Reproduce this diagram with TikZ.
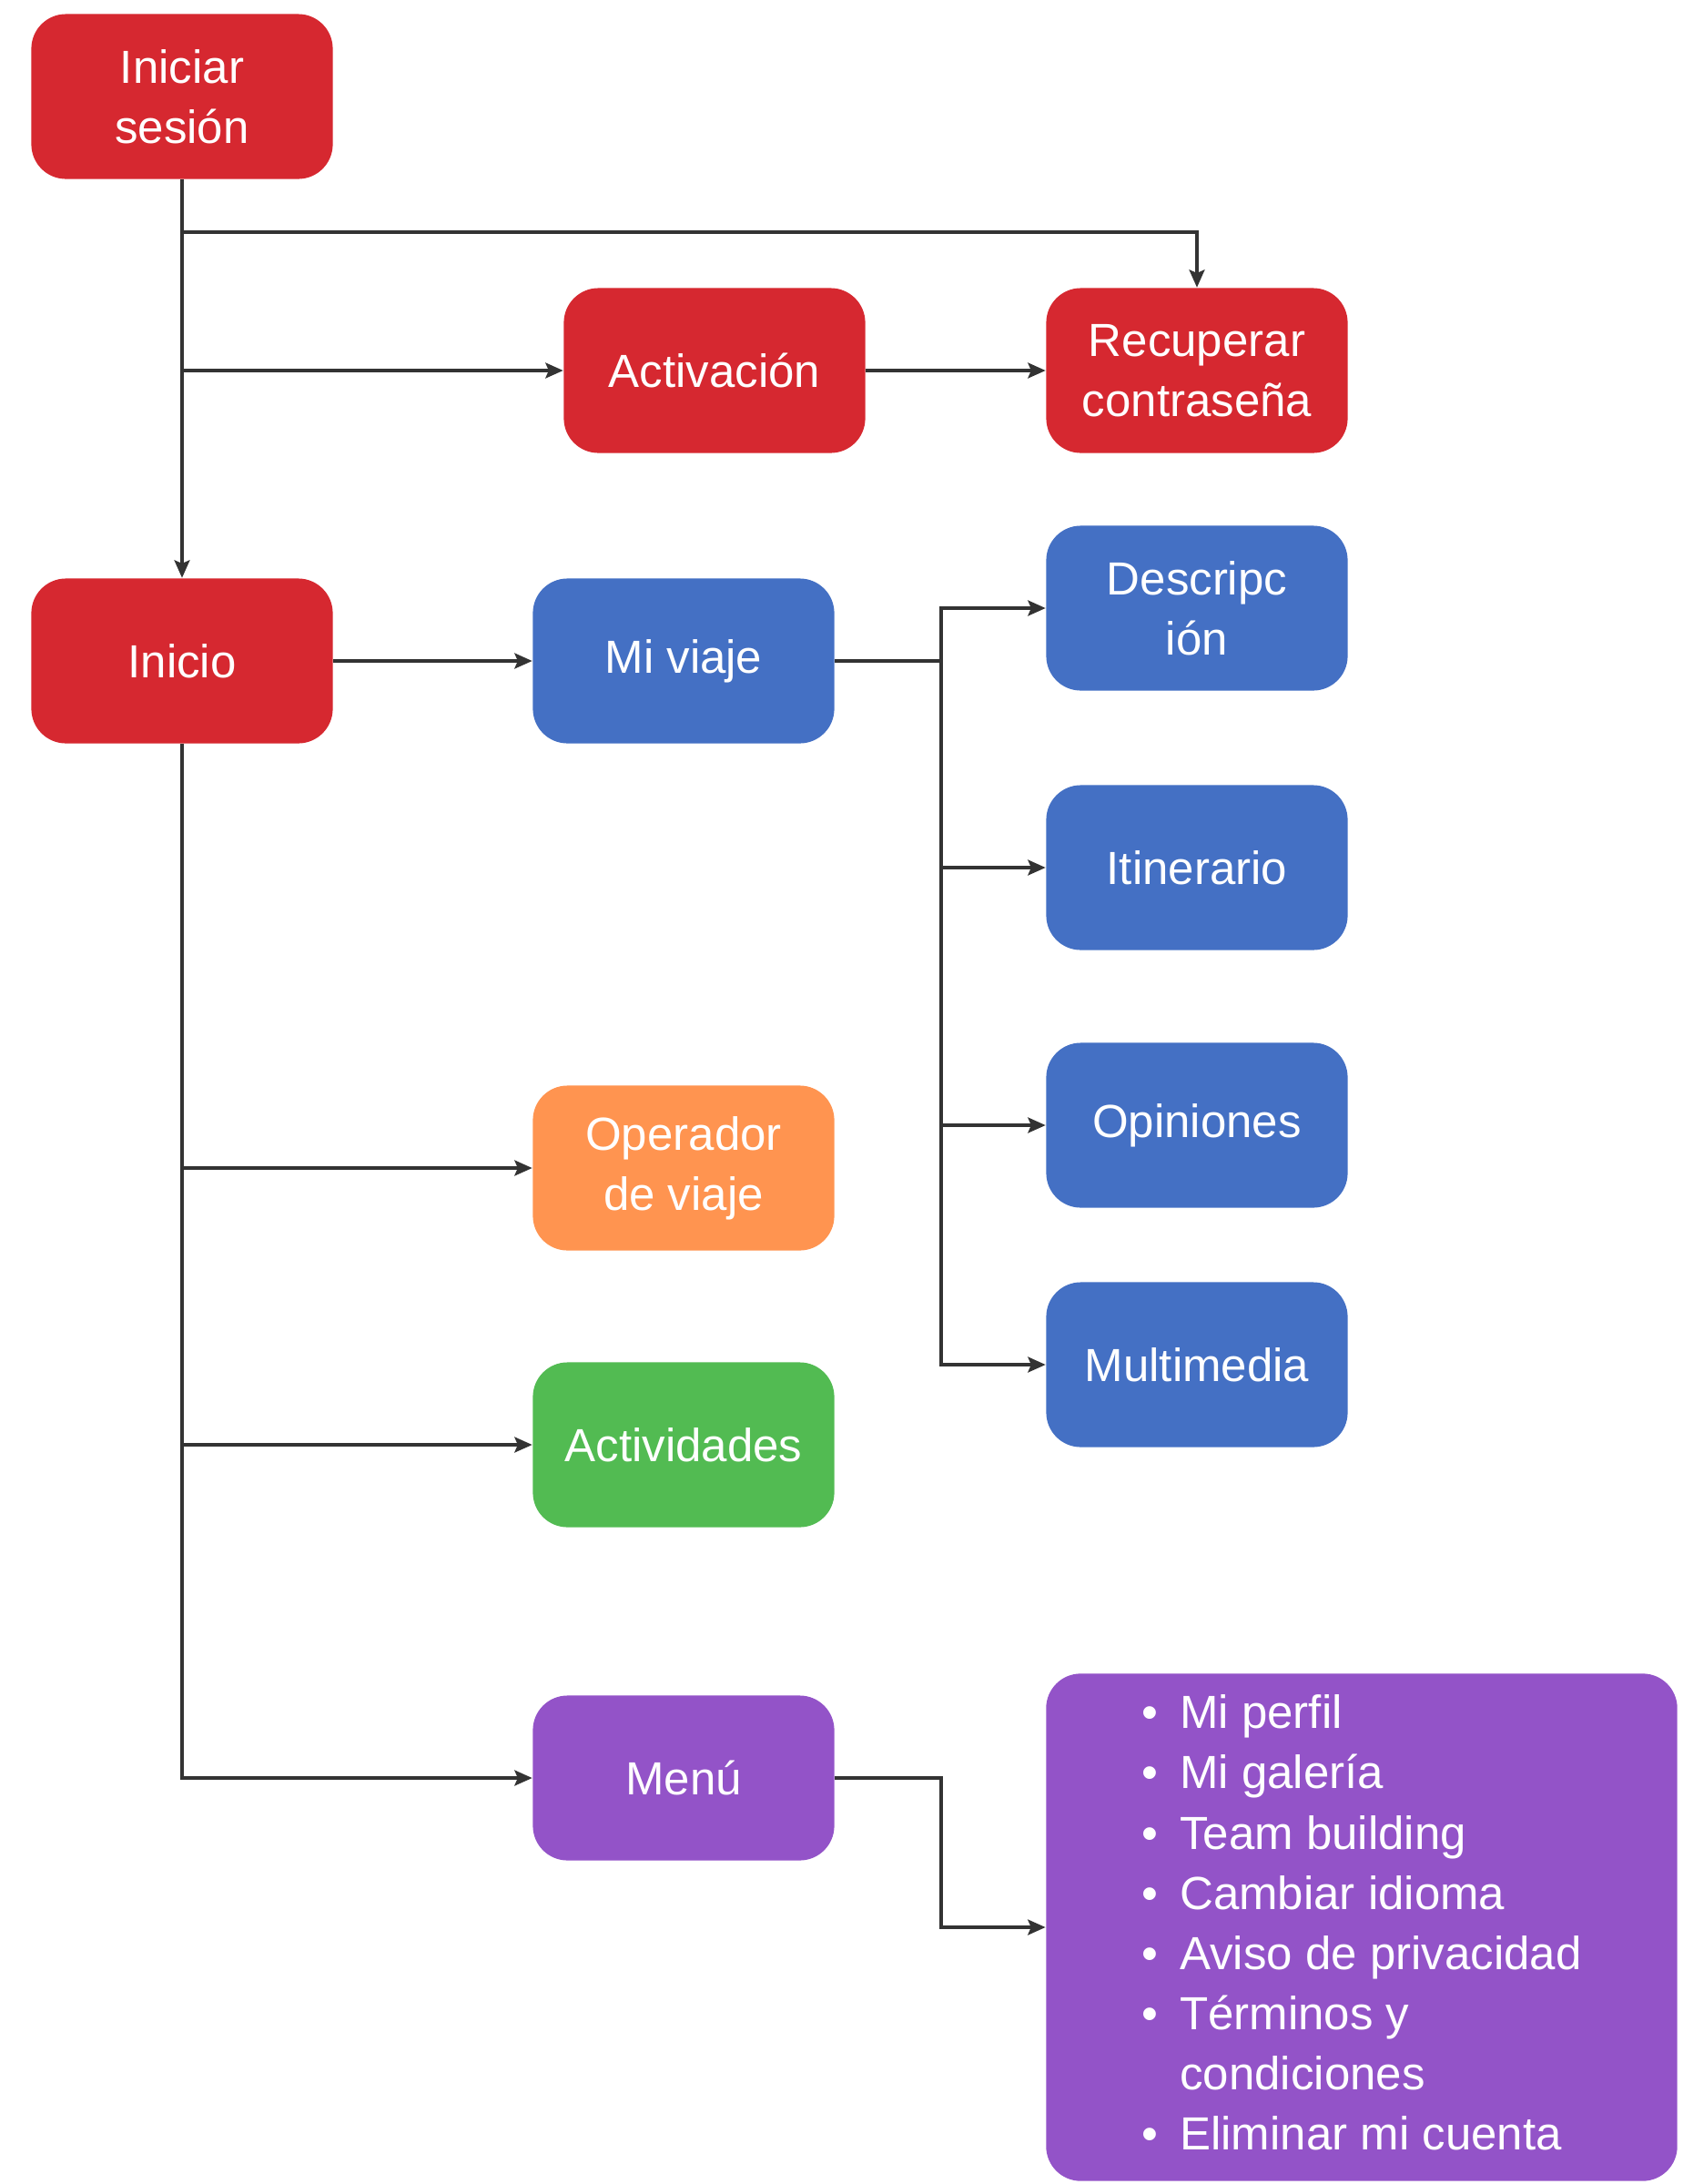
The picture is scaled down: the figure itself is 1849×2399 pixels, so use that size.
\documentclass[tikz,border=0pt]{standalone}
\usepackage{fontspec}
\setmainfont{Liberation Sans}
\usetikzlibrary{arrows.meta}
\definecolor{rojo}{HTML}{D62830}
\definecolor{azul}{HTML}{4470C4}
\definecolor{naranja}{HTML}{FF9450}
\definecolor{verde}{HTML}{52BB52}
\definecolor{morado}{HTML}{9353C8}
\definecolor{linea}{HTML}{333333}
\begin{document}
\begin{tikzpicture}[>={Stealth[length=5.5pt, width=4.8pt, inset=1pt]}, x=0.01cm, y=-0.01cm,
    box/.style={rounded corners=0.38cm, minimum width=3.31cm, minimum height=1.81cm,
      text=white, align=center, font=\fontsize{14.5}{18.8}\selectfont},
    flecha/.style={->, line width=1pt, draw=linea}]
  \useasboundingbox (0, 0) rectangle (1849, 2399);

  \node[box, fill=rojo] (sesion) at (200, 106) {Iniciar\\sesión};
  \node[box, fill=rojo] (activacion) at (785, 407) {Activación};
  \node[box, fill=rojo] (recuperar) at (1315, 407) {Recuperar\\contraseña};
  \node[box, fill=rojo] (inicio) at (200, 726) {Inicio};
  \node[box, fill=azul] (viaje) at (751, 726) {Mi viaje};
  \node[box, fill=azul] (descripcion) at (1315, 668) {Descripc\\ión};
  \node[box, fill=azul] (itinerario) at (1315, 953) {Itinerario};
  \node[box, fill=azul] (opiniones) at (1315, 1236) {Opiniones};
  \node[box, fill=azul] (multimedia) at (1315, 1499) {Multimedia};
  \node[box, fill=naranja] (operador) at (751, 1283) {Operador\\de viaje};
  \node[box, fill=verde] (actividades) at (751, 1587) {Actividades};
  \node[box, fill=morado] (menu) at (751, 1953) {Menú};
  \node[box, fill=morado, minimum width=6.93cm, minimum height=5.57cm] (lista) at (1496, 2117)
    {\begin{tabular}{@{}l@{\hspace{0.24cm}}l@{}}
      \textbullet & Mi perfil\\
      \textbullet & Mi galería\\
      \textbullet & Team building\\
      \textbullet & Cambiar idioma\\
      \textbullet & Aviso de privacidad\\
      \textbullet & Términos y\\
                  & condiciones\\
      \textbullet & Eliminar mi cuenta
    \end{tabular}};

  \coordinate (arriba) at (200, 255);
  \coordinate (rama) at (1034, 726);

  \draw[flecha] (sesion) -- (inicio);
  \draw[flecha] (arriba) -| (recuperar);
  \draw[flecha] (arriba |- activacion) -- (activacion);
  \draw[flecha] (activacion) -- (recuperar);
  \draw[flecha] (inicio) -- (viaje);
  \draw[line width=1pt, draw=linea] (viaje) -- (rama);
  \foreach \n in {descripcion, itinerario, opiniones, multimedia}
    \draw[flecha] (rama) |- (\n.west);
  \foreach \n in {operador, actividades, menu}
    \draw[flecha] (inicio.south) |- (\n.west);
  \draw[flecha] (menu.east) -- (rama |- menu.east) |- (lista.west);
\end{tikzpicture}
\end{document}
